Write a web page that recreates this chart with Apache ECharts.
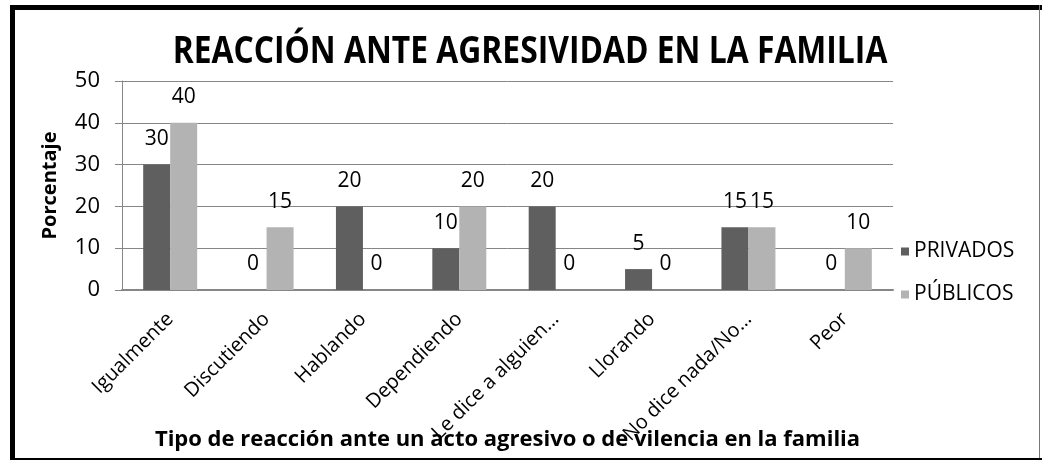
<!DOCTYPE html>
<html>
<head>
<meta charset="utf-8">
<script src="https://cdn.jsdelivr.net/npm/echarts@6/dist/echarts.min.js"></script>
<style>
  html, body { margin: 0; padding: 0; background: #fff; }
  #chart { width: 1042px; height: 460px; }
</style>
</head>
<body>
<div id="chart"></div>
<script>
const categories = ['Igualmente', 'Discutiendo', 'Hablando', 'Dependiendo', 'Le dice a alguien…', 'Llorando', 'No dice nada/No…', 'Peor']
const privados = [30, 0, 20, 10, 20, 5, 15, 0]
const publicos = [40, 15, 0, 20, 0, 0, 15, 10]
const yTicks = [0, 10, 20, 30, 40, 50]

const font = '"Open Sans", "Noto Sans", sans-serif'
const chart = echarts.init(document.getElementById('chart'))

chart.setOption({
  animation: false,
  textStyle: { fontFamily: font, color: '#000' },
  legend: {
    orient: 'vertical',
    left: 896,
    top: 236,
    itemWidth: 8,
    itemHeight: 8,
    itemGap: 22,
    icon: 'rect',
    textStyle: { fontFamily: font, fontSize: 21, color: '#000' },
    data: ['PRIVADOS', 'PÚBLICOS']
  },
  grid: { left: 122, top: 81, right: 149, bottom: 170, containLabel: false, outerBoundsMode: 'none' },
  xAxis: {
    type: 'category',
    data: categories,
    name: 'Tipo de reacción ante un acto agresivo o de vilencia en la familia',
    nameLocation: 'middle',
    nameGap: 139,
    nameMoveOverlap: false,
    nameTextStyle: { fontFamily: font, fontWeight: 'bold', fontSize: 22, color: '#000' },
    axisLine: { lineStyle: { color: '#868686', width: 2 } },
    axisTick: { show: false },
    axisLabel: { rotate: 45, margin: 26, fontSize: 20, color: '#000', interval: 0 }
  },
  yAxis: {
    type: 'value',
    min: yTicks[0],
    max: yTicks[yTicks.length - 1],
    interval: 10,
    name: 'Porcentaje',
    nameLocation: 'middle',
    nameGap: 62,
    nameMoveOverlap: false,
    nameTextStyle: { fontFamily: font, fontWeight: 'bold', fontSize: 20, color: '#000' },
    axisLine: { show: true, lineStyle: { color: '#868686', width: 1 } },
    axisTick: { show: true, length: 7, lineStyle: { color: '#868686' } },
    axisLabel: { fontSize: 22, color: '#000', margin: 22 },
    splitLine: { lineStyle: { color: '#868686', width: 1 } }
  },
  series: [
    {
      name: 'PRIVADOS',
      type: 'bar',
      data: privados,
      barWidth: 27,
      barGap: '0%',
      itemStyle: { color: '#5f5f5f' },
      label: { show: true, position: 'top', distance: 15, fontSize: 21, color: '#000' }
    },
    {
      name: 'PÚBLICOS',
      type: 'bar',
      data: publicos,
      barWidth: 27,
      barGap: '0%',
      itemStyle: { color: '#b3b3b3' },
      label: { show: true, position: 'top', distance: 15, fontSize: 21, color: '#000' }
    }
  ],
  graphic: [
    {
      type: 'text',
      x: 530,
      y: 52,
      scaleX: 0.86,
      style: {
        text: 'REACCIÓN ANTE AGRESIVIDAD EN LA FAMILIA',
        fontFamily: font,
        fontWeight: 'bold',
        fontSize: 37,
        fill: '#000',
        align: 'center',
        verticalAlign: 'middle'
      }
    },
    { type: 'rect', shape: { x: 10, y: 5, width: 5, height: 455 }, style: { fill: '#000' } },
    { type: 'rect', shape: { x: 10, y: 5, width: 1032, height: 5 }, style: { fill: '#000' } },
    { type: 'rect', shape: { x: 1039, y: 5, width: 1, height: 455 }, style: { fill: '#777' } },
    { type: 'rect', shape: { x: 10, y: 458, width: 1032, height: 2 }, style: { fill: '#000' } }
  ]
})
</script>
</body>
</html>
